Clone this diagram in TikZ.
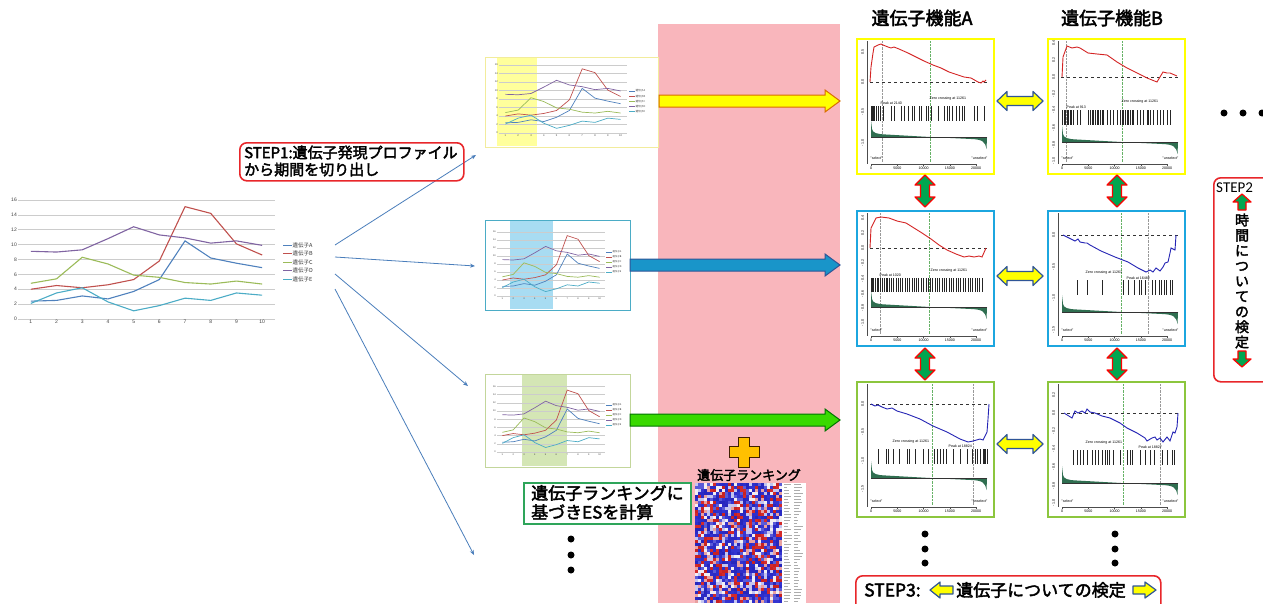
\documentclass[tikz,border=0pt]{standalone}
\usepackage{fontspec}
\setmainfont{Liberation Sans}
\newfontfamily\jp{Noto Sans CJK JP}
\newfontfamily\jpb{Noto Sans CJK JP}[FakeBold=2.5]
\newfontfamily\stepfont{Carlito}
\usetikzlibrary{arrows.meta}
\definecolor{serA}{HTML}{4F81BD}
\definecolor{serB}{HTML}{C0504D}
\definecolor{serC}{HTML}{9BBB59}
\definecolor{serD}{HTML}{8064A2}
\definecolor{serE}{HTML}{4BACC6}
\definecolor{pinkbg}{RGB}{249,182,188}
\definecolor{gred}{HTML}{D42424}
\definecolor{gblue}{HTML}{2424B4}
\definecolor{bandgreen}{HTML}{2F6E50}
\definecolor{fyellow}{HTML}{FFFF00}
\definecolor{fblue}{HTML}{1CA6DF}
\definecolor{fgreen}{HTML}{8CC63E}
\definecolor{stepred}{HTML}{E8262A}
\definecolor{linkblue}{HTML}{4A7EBB}
\definecolor{hlyellow}{HTML}{FFFF9C}
\definecolor{hlblue}{HTML}{A8DCF2}
\definecolor{hlgreen}{HTML}{D4E6B5}
\definecolor{cyellow}{HTML}{F2EC9C}
\definecolor{cgreen}{HTML}{C3D69B}
\definecolor{navyline}{HTML}{2F5597}
\definecolor{esgreen}{HTML}{2EA55A}
\definecolor{plusyellow}{HTML}{FFC000}
\definecolor{arrgreen}{HTML}{00A650}
\definecolor{hm0}{HTML}{2A2AC4}
\definecolor{hm1}{HTML}{2E2ECA}
\definecolor{hm2}{HTML}{3434D0}
\definecolor{hm3}{HTML}{2626BC}
\definecolor{hm4}{HTML}{5A5AD8}
\definecolor{hm5}{HTML}{C4C4F0}
\definecolor{hm6}{HTML}{F2EEF4}
\definecolor{hm7}{HTML}{E8A0A0}
\definecolor{hm8}{HTML}{D42A2A}
\definecolor{hm9}{HTML}{C82222}
\newcommand\fsz[1]{\fontsize{#1}{#1}\selectfont}
\tikzset{
  gridc/.style={gray!40,line width=0.5pt},
  chartbox/.style={anchor=north west,inner sep=0pt,line width=0.9pt},
  gframe/.style={anchor=north west,inner sep=0pt,line width=2.3pt,minimum width=137pt,minimum height=135pt,fill=white},
  tl/.style={font=\fsz{3.6},inner sep=0.4pt},
  hit/.style={line width=0.45pt,black!85},
  axl/.style={black!70,line width=0.3pt},
  link/.style={linkblue,line width=0.8pt,-{Stealth[length=5pt,width=4pt]}},
  stepbox/.style={draw=stepred,line width=1.6pt,rounded corners=7pt,anchor=north west,inner sep=0pt},
  yarrow/.style={fill=fyellow,draw=navyline,line width=1.2pt,line join=round},
  garrow/.style={fill=arrgreen,draw=red,line width=1.2pt,line join=round},
  dot/.style={circle,fill=black,inner sep=0pt,minimum size=7pt},
}
% horizontal single arrow: tail x, head base x, tip x, y, shaft half, head half, style
\newcommand\harrow[7]{\draw[#7] (#1,{#4-#5}) -- (#2,{#4-#5}) -- (#2,{#4-#6}) -- (#3,#4) -- (#2,{#4+#6}) -- (#2,{#4+#5}) -- (#1,{#4+#5}) -- cycle;}
% vertical single arrow: x, tail y, head base y, tip y, shaft half, head half, style
\newcommand\varrow[7]{\draw[#7] ({#1-#5},#2) -- ({#1-#5},#3) -- ({#1-#6},#3) -- (#1,#4) -- ({#1+#6},#3) -- ({#1+#5},#3) -- ({#1+#5},#2) -- cycle;}
% horizontal double arrow: x1 tip, x2 tip, y, shaft half, head half, head length, style
\newcommand\hdarrow[7]{\draw[#7] (#1,#3) -- ({#1+#6},{#3-#5}) -- ({#1+#6},{#3-#4}) -- ({#2-#6},{#3-#4}) -- ({#2-#6},{#3-#5}) -- (#2,#3) -- ({#2-#6},{#3+#5}) -- ({#2-#6},{#3+#4}) -- ({#1+#6},{#3+#4}) -- ({#1+#6},{#3+#5}) -- cycle;}
% vertical double arrow: x, y1 tip, y2 tip, shaft half, head half, head length, style
\newcommand\vdarrow[7]{\draw[#7] (#1,#2) -- ({#1+#5},{#2+#6}) -- ({#1+#4},{#2+#6}) -- ({#1+#4},{#3-#6}) -- ({#1+#5},{#3-#6}) -- (#1,#3) -- ({#1-#5},{#3-#6}) -- ({#1-#4},{#3-#6}) -- ({#1-#4},{#2+#6}) -- ({#1-#5},{#2+#6}) -- cycle;}
\newcommand\xlseries[1]{%
 \draw[serA,line width=#1] (0.5,2.4)--(1.5,2.5)--(2.5,3.1)--(3.5,2.7)--(4.5,3.7)--(5.5,5.3)--(6.5,10.5)--(7.5,8.2)--(8.5,7.5)--(9.5,6.9);
 \draw[serB,line width=#1] (0.5,4.0)--(1.5,4.5)--(2.5,4.2)--(3.5,4.6)--(4.5,5.3)--(5.5,7.8)--(6.5,15.1)--(7.5,14.2)--(8.5,10.1)--(9.5,8.6);
 \draw[serC,line width=#1] (0.5,4.8)--(1.5,5.4)--(2.5,8.3)--(3.5,7.4)--(4.5,5.9)--(5.5,5.6)--(6.5,4.9)--(7.5,4.7)--(8.5,5.1)--(9.5,4.7);
 \draw[serD,line width=#1] (0.5,9.1)--(1.5,9.0)--(2.5,9.3)--(3.5,10.8)--(4.5,12.4)--(5.5,11.3)--(6.5,10.9)--(7.5,10.2)--(8.5,10.5)--(9.5,9.9);
 \draw[serE,line width=#1] (0.5,2.1)--(1.5,3.5)--(2.5,4.2)--(3.5,2.3)--(4.5,1.1)--(5.5,1.8)--(6.5,2.8)--(7.5,2.5)--(8.5,3.5)--(9.5,3.2);
}
\newcommand\xlchart[6]{%
 \begin{scope}[shift={(#1,#2)},x=#3pt,y=#4pt]
  \foreach \v in {0,2,...,16} \draw[gridc] (0,\v) -- (10,\v);
  \xlseries{#5}
  \foreach \v in {0,2,...,16} \node[anchor=east,inner sep=1pt,text=black!75,font=\fsz{#6}] at (0,\v) {\v};
  \foreach \i in {1,...,10} \node[anchor=north,inner sep=1.2pt,text=black!75,font=\fsz{#6}] at ({\i-0.5},0) {\i};
 \end{scope}}
\newcommand\xllegend[5]{%
 \foreach \c/\n [count=\k] in {serA/A,serB/B,serC/C,serD/D,serE/E}{
   \draw[\c,line width=0.9pt] (#1,{#3+(\k-1)*#4}) -- ++(#2,0);
   \node[anchor=west,inner sep=0.5pt,text=black!80,font=\jp\fsz{#5}] at ({#1+#2},{#3+(\k-1)*#4}) {遺伝子\n};}}
% #1 zeroY, #2 bandY, #3 peakX, #4 zeroX
\newcommand\gseabase[4]{%
 \draw[axl] (11,3) -- (11,126) (15,126) -- (120,126);
 \foreach \t/\lab in {15/0,41.25/5000,67.5/10000,93.75/15000,120/20000}{\draw[axl] (\t,126) -- (\t,128); \node[tl,anchor=north] at (\t,128.3) {\lab};}
 \draw[densely dotted,black!40,line width=0.4pt] (#3,3) -- (#3,124);
 \draw[densely dotted,green!50!black!60,line width=0.4pt] (#4,3) -- (#4,124);
 \draw[dashed,black!80,line width=0.3pt] (14,#1) -- (131,#1);
 \fill[bandgreen] (15,{#2-17}) -- (16,{#2-8}) .. controls (17,{#2-4}) and (20,{#2-3}) .. (30,{#2-2.5}) -- (74,#2) -- (115,{#2+2}) .. controls (126,{#2+2.5}) and (129,{#2+4}) .. (130.5,{#2+12}) -- (131,#2) -- (15,#2) -- cycle;
 \draw[black!80,line width=0.3pt] (15,#2) -- (131,#2);
 \node[tl,anchor=west] at (14,120) {"select"};
 \node[tl,anchor=east] at (132,120) {"unselect"};
}
\begin{document}
\begin{tikzpicture}[x=1pt,y=-1pt]
\useasboundingbox (0,0) rectangle (1263,603);
\fill[white] (0,0) rectangle (1263,603);
% pink band
\fill[pinkbg] (658,24) rectangle (840,603);

% ---------- big chart ----------
\xlchart{18}{319}{25.7}{7.44}{1.1pt}{5}
\xllegend{283}{9}{245}{8.5}{5.5}
\coordinate (s1) at (335,245); \coordinate (s2) at (335,257);
\coordinate (s3) at (335,274); \coordinate (s4) at (335,289);

% ---------- small charts ----------
\fill[hlyellow] (497,58) rectangle (537,146);
\node[chartbox,draw=cyellow,minimum width=173pt,minimum height=90pt] (c1) at (485,57) {};
\xlchart{499}{133}{12.8}{4.25}{0.7pt}{2.6}
\xllegend{629}{6}{91}{5.2}{2.6}

\fill[hlblue] (510,221) rectangle (553,309);
\node[chartbox,draw=serE,minimum width=145pt,minimum height=90pt] (c2) at (485,220) {};
\xlchart{497}{296}{10.8}{4.0}{0.7pt}{2.4}
\xllegend{606}{6}{252}{5}{2.4}

\fill[hlgreen] (522,375) rectangle (567,466);
\node[chartbox,draw=cgreen,minimum width=145pt,minimum height=93pt] (c3) at (485,374) {};
\xlchart{497}{452}{10.8}{4.1}{0.7pt}{2.4}
\xllegend{606}{6}{405}{5}{2.4}

\coordinate (e1) at (476,155); \coordinate (e2) at (475,266);
\coordinate (e3) at (468,386); \coordinate (e4) at (474,555);
\draw[link] (s1) -- (e1);
\draw[link] (s2) -- (e2);
\draw[link] (s3) -- (e3);
\draw[link] (s4) -- (e4);

% STEP1
\node[stepbox,minimum width=224pt,minimum height=38pt] (step1) at (239,142) {};
\node[anchor=west,inner sep=0pt,font=\jpb\fsz{15}] (st1a) at (244,152.5) {STEP1:遺伝子発現プロファイル};
\node[anchor=west,inner sep=0pt,font=\jpb\fsz{15}] (st1b) at (244,169.5) {から期間を切り出し};

% dots under charts
\node[dot] (d1) at (571,539) {};
\node[dot] (d2) at (571,555) {};
\node[dot] (d3) at (571,570) {};

% ES box
\node[draw=esgreen,line width=1.6pt,fill=white,minimum width=167pt,minimum height=41pt,anchor=north west,inner sep=0pt] (esbox) at (523,482) {};
\node[anchor=west,inner sep=0pt,font=\jpb\fsz{17}] (es1) at (531,493) {遺伝子ランキングに};
\node[anchor=west,inner sep=0pt,font=\jpb\fsz{17}] (es2) at (531,512) {基づきESを計算};

% plus
\draw[draw=black!75!orange,fill=plusyellow,line width=1pt] (738.5,437) -- (749.5,437) -- (749.5,446.5) -- (759,446.5) -- (759,457.5) -- (749.5,457.5) -- (749.5,467) -- (738.5,467) -- (738.5,457.5) -- (729,457.5) -- (729,446.5) -- (738.5,446.5) -- cycle;
\node[font=\jpb\fsz{13},inner sep=0pt] (rank) at (749,475) {遺伝子ランキング};

% heatmap
\pgfmathsetseed{12345}
\foreach \c in {0,...,28}{
  \foreach \r in {0,...,39}{
    \pgfmathrandominteger{\k}{0}{9}
    \fill[hm\k] ({695+3*\c},{483+3*\r}) rectangle ++(3,3);
  }
}
\fill[white] (782,483) rectangle (806,603);
\foreach \r in {0,...,39}{
  \pgfmathsetmacro\la{3+5*rnd}\pgfmathsetmacro\lb{3+6*rnd}
  \draw[gray!65,line width=0.9pt] (784,{484.5+3*\r}) -- ++(\la,0);
  \draw[gray!65,line width=0.9pt] (794,{484.5+3*\r}) -- ++(\lb,0);
}

% block arrows from the charts to the plots
\harrow{659}{825}{840}{101}{6}{11}{fill=fyellow,draw=orange!85!black,line width=1pt}
\harrow{630}{825}{840}{265}{6}{11}{fill=fblue!90!black,draw=navyline,line width=1pt}
\harrow{630}{825}{840}{420}{6}{11}{fill=green!65!lime!85!black,draw=green!45!black,line width=1pt}

% titles
\node[font=\jpb\fsz{18},inner sep=0pt] (tA) at (922,18) {遺伝子機能A};
\node[font=\jpb\fsz{18},inner sep=0pt] (tB) at (1112,18) {遺伝子機能B};

% ---------- GSEA plots ----------
% Row 1 A
\node[gframe,draw=fyellow] (g1a) at (856,38) {};
\begin{scope}[shift={(856,38)}]
 \gseabase{44}{99}{26}{74}
 \foreach \h in {15,16,17,18,20,22,24,27,35,38,45,48,52,56,58,63,65,70,72,75,82,88,91,93,96,100,103,106,108,118,121,128} \draw[hit] (\h,68) -- (\h,83);
 \draw[gred,line width=0.9pt] (14,44)--(15,29)--(17,15)--(18,9)--(22,7)--(25,6)--(27,7)--(32,9)--(35,10)--(38,9)--(43,11)--(52,15)--(60,19)--(68,23)--(77,27)--(85,30)--(93,34)--(102,37)--(108,39)--(115,40)--(122,44)--(125,45)--(127,43)--(128,44)--(130,42);
 \foreach \yy/\lab in {14/0.5,44/0.0,74/-0.5,105/-1.0} \node[tl,rotate=90] at (6.5,\yy) {\lab};
 \node[tl,anchor=west] at (24,65) {Peak at 2140};
 \node[tl,anchor=west] at (73,61) {Zero crossing at 11261};
\end{scope}
% Row 1 B
\node[gframe,draw=fyellow] (g1b) at (1047,38) {};
\begin{scope}[shift={(1047,38)}]
 \gseabase{39}{104}{19}{75}
 \foreach \h in {15,17,18,20,21,23,24,26,30,33,41,43,45,46,48,50,51,53,55,56,60,63,66,70,73,75,76,78,80,81,83,85,86,90,93,96,100,101,103,106,110,113,116,120,123} \draw[hit] (\h,72) -- (\h,87);
 \draw[gred,line width=0.9pt] (15,39)--(16,19)--(20,8)--(25,10)--(30,9)--(33,10)--(41,15)--(50,16)--(60,17)--(70,24)--(80,30)--(90,35)--(100,40)--(110,44)--(113,39)--(116,34)--(120,35)--(123,35)--(130,38);
 \foreach \yy/\lab in {5/0.4,22/0.2,39/0.0,56/-0.2,72/-0.4,90/-0.6,107/-0.8,123/-1.0} \node[tl,rotate=90] at (6.5,\yy) {\lab};
 \node[tl,anchor=west] at (19,69) {Peak at 913};
 \node[tl,anchor=west] at (74,64) {Zero crossing at 11261};
\end{scope}
% Row 2 A
\node[gframe,draw=fblue] (g2a) at (856,210) {};
\begin{scope}[shift={(856,210)}]
 \gseabase{38}{97}{24}{73}
 \foreach \h in {15,16,17,19,21,22,24,26,28,30,31,33,35,37,40,42,44,46,49,51,53,56,58,60,62,65,67,70,72,74,76,79,81,83,86,88,90,93,95,97,100,102,104,107,109,112,114,116,119,121,123,126} \draw[hit] (\h,68) -- (\h,82);
 \draw[gred,line width=0.9pt] (14,38)--(15,18)--(20,8)--(25,7)--(33,8)--(41,11)--(50,13)--(58,18)--(66,23)--(75,29)--(83,35)--(91,40)--(100,44)--(108,47)--(113,46)--(118,47)--(123,46)--(126,47)--(130,38);
 \foreach \yy/\lab in {8/0.4,23/0.2,38/0.0,53/-0.2,69/-0.4,84/-0.6,98/-0.8,113/-1.0} \node[tl,rotate=90] at (6.5,\yy) {\lab};
 \node[tl,anchor=west] at (23,65) {Peak at 1020};
 \node[tl,anchor=west] at (74,61) {Zero crossing at 11261};
\end{scope}
% Row 2 B
\node[gframe,draw=fblue] (g2b) at (1047,210) {};
\begin{scope}[shift={(1047,210)}]
 \gseabase{25}{102}{101}{74}
 \foreach \h in {30,40,55,76,81,87,92,94,98,105,108,112,114,117,119,123,125} \draw[hit] (\h,70) -- (\h,85);
 \draw[gblue,line width=0.9pt] (16,25)--(28,31)--(31,29)--(33,32)--(38,33)--(40,33)--(43,35)--(54,41)--(68,47)--(81,52)--(91,58)--(99,62)--(103,60)--(106,62)--(109,58)--(113,61)--(116,57)--(118,53)--(121,52)--(123,43)--(124,38)--(128,40)--(129,25);
 \foreach \yy/\lab in {25/0.0,57/-0.5,88/-1.0,120/-1.5} \node[tl,rotate=90] at (6.5,\yy) {\lab};
 \node[tl,anchor=west] at (38,63) {Zero crossing at 11261};
 \node[tl,anchor=west] at (79,68) {Peak at 16482};
\end{scope}
% Row 3 A
\node[gframe,draw=fgreen] (g3a) at (856,381) {};
\begin{scope}[shift={(856,381)}]
 \gseabase{23}{97}{117}{76}
 \foreach \h in {22,30,32,37,43,51,53,59,67,72,78,81,84,87,90,97,104,111,116,119,121,124,127,128,129,131} \draw[hit] (\h,68) -- (\h,83);
 \draw[gblue,line width=0.9pt] (15,23)--(19,25)--(22,24)--(26,26)--(31,28)--(36,27)--(41,30)--(51,33)--(64,38)--(77,45)--(91,51)--(104,58)--(112,61)--(117,60)--(124,58)--(127,59)--(131,51)--(132,38)--(133,23);
 \foreach \yy/\lab in {23/0.0,51/-0.5,80/-1.0,108/-1.5} \node[tl,rotate=90] at (6.5,\yy) {\lab};
 \node[tl,anchor=west] at (36,61) {Zero crossing at 11261};
 \node[tl,anchor=west] at (92,65) {Peak at 18824};
\end{scope}
% Row 3 B
\node[gframe,draw=fgreen] (g3b) at (1047,381) {};
\begin{scope}[shift={(1047,381)}]
 \gseabase{32}{102}{113}{76}
 \foreach \h in {26,30,33,36,40,45,48,51,55,58,60,62,66,73,80,83,85,93,98,103,107,115,120,125,127} \draw[hit] (\h,69) -- (\h,84);
 \draw[gblue,line width=0.9pt] (17,32)--(25,37)--(28,30)--(31,32)--(35,30)--(38,32)--(40,28)--(43,31)--(48,32)--(55,35)--(63,37)--(73,42)--(80,47)--(90,52)--(98,57)--(100,60)--(105,57)--(108,56)--(110,59)--(113,57)--(116,61)--(120,56)--(123,60)--(125,54)--(126,51)--(128,52)--(130,46)--(131,32);
 \foreach \yy/\lab in {14/0.2,32/0.0,50/-0.2,68/-0.4,86/-0.6,105/-0.8,122/-1.0} \node[tl,rotate=90] at (6.5,\yy) {\lab};
 \node[tl,anchor=west] at (38,62) {Zero crossing at 11261};
 \node[tl,anchor=west] at (91,66) {Peak at 18827};
\end{scope}

% double arrows between columns
\hdarrow{997}{1043}{101}{4.5}{9.5}{10}{yarrow}
\hdarrow{997}{1043}{276}{4.5}{9.5}{10}{yarrow}
\hdarrow{997}{1043}{444}{4.5}{9.5}{10}{yarrow}
% double arrows between rows
\vdarrow{925}{175}{207}{4.5}{10}{10}{garrow}
\vdarrow{925}{348}{380}{4.5}{10}{10}{garrow}
\vdarrow{1117}{175}{207}{4.5}{10}{10}{garrow}
\vdarrow{1117}{348}{380}{4.5}{10}{10}{garrow}

% dots
\node[dot] (r1) at (1224,113) {};
\node[dot] (r2) at (1243,113) {};
\node[dot] (r3) at (1262,113) {};
\foreach \x/\n in {925/a,1115/b}{
  \node[dot] (\n1) at (\x,534) {};
  \node[dot] (\n2) at (\x,549) {};
  \node[dot] (\n3) at (\x,563) {};
}

% STEP2
\node[stepbox,minimum width=62pt,minimum height=204pt] (step2) at (1213,177) {};
\node[anchor=west,inner sep=0pt,font=\stepfont\fsz{15}] (s2lab) at (1216,188) {STEP2};
\varrow{1242}{210}{202}{194}{4}{9}{garrow}
\node[font=\jpb\fontsize{14}{15.25}\selectfont,align=center,inner sep=0pt] (s2t) at (1242,281) {時\\間\\に\\つ\\い\\て\\の\\検\\定};
\varrow{1242}{351}{359}{367}{4}{9}{garrow}

% STEP3
\node[stepbox,minimum width=305pt,minimum height=40pt] (step3) at (855,575) {};
\node[anchor=west,inner sep=0pt,font=\jpb\fsz{17.5}] (s3lab) at (864,590) {STEP3:};
\harrow{953}{940}{930}{590}{4}{8}{yarrow}
\node[anchor=west,inner sep=0pt,font=\jpb\fsz{17}] (s3t) at (956,590) {遺伝子についての検定};
\harrow{1133}{1145}{1156}{590}{4}{8}{yarrow}
\end{tikzpicture}
\end{document}
